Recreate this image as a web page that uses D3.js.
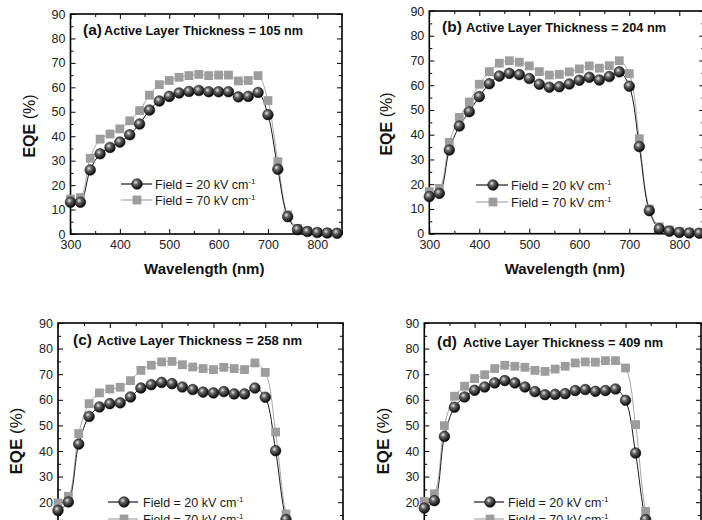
<!DOCTYPE html>
<html>
<head>
<meta charset="utf-8">
<script src="https://cdn.jsdelivr.net/npm/d3@7"></script>
<style>
    body { margin: 0; background: #fff; }
    svg { display: block; font-family: "Liberation Sans", Arial, sans-serif; }
</style>
</head>
<body>
<div id="chart"></div>
<script>
// wavelength (nm) of every measured point
const wavelength = [300, 320, 340, 360, 380, 400, 420, 440, 460, 480, 500, 520, 540, 560,
    580, 600, 620, 640, 660, 680, 700, 720, 740, 760, 780, 800, 820, 840];

// EQE (%), 20 and 70 kV/cm for each thickness
const eqeA20 = [13.0, 13.0, 26.2, 32.8, 35.4, 37.6, 40.6, 45.0, 50.7, 54.4, 56.3, 57.7, 58.3, 58.7,
    58.2, 58.2, 58.2, 56.1, 56.3, 57.9, 48.8, 26.5, 7.1, 1.8, 1.0, 0.6, 0.4, 0.3];
const eqeA70 = [14.3, 14.9, 31.0, 38.8, 40.9, 43.0, 46.3, 50.5, 56.8, 61.1, 62.8, 64.1, 64.8, 65.3,
    64.8, 65.0, 65.0, 62.6, 62.8, 64.8, 54.6, 29.6, 7.9, 2.3, 1.2, 0.7, 0.5, 0.4];
const eqeB20 = [15.0, 16.3, 33.8, 43.5, 49.3, 55.4, 60.6, 63.7, 64.8, 64.3, 62.7, 60.4, 59.2, 59.4,
    60.5, 62.0, 63.2, 62.1, 63.5, 65.4, 59.6, 35.2, 9.3, 2.0, 1.0, 0.5, 0.3, 0.2];
const eqeB70 = [17.0, 18.3, 36.9, 47.0, 53.2, 60.4, 65.5, 68.9, 69.9, 69.3, 67.8, 65.5, 64.1, 64.4,
    65.4, 66.6, 67.8, 66.9, 67.9, 69.9, 64.7, 38.4, 10.0, 2.8, 1.5, 0.8, 0.5, 0.4];
const eqeC20 = [16.8, 20.1, 42.7, 53.5, 57.2, 58.5, 58.8, 61.1, 64.6, 65.9, 66.8, 66.3, 65.0, 64.0,
    63.0, 62.7, 63.2, 62.3, 62.3, 64.6, 61.0, 40.1, 13.2, 3.0, 1.5, 0.8, 0.5, 0.3];
const eqeC70 = [19.7, 22.3, 46.8, 58.5, 62.7, 64.2, 64.9, 67.5, 71.5, 73.5, 74.8, 75.0, 73.7, 72.8,
    72.2, 71.8, 72.7, 72.2, 71.8, 74.4, 70.7, 47.4, 15.4, 3.5, 1.8, 1.0, 0.6, 0.4];
const eqeD20 = [17.7, 20.6, 45.7, 57.1, 61.1, 63.7, 65.0, 66.6, 67.5, 66.6, 65.0, 63.2, 62.0, 62.1,
    62.4, 63.6, 64.0, 63.3, 63.6, 64.2, 59.8, 39.2, 13.2, 3.0, 1.5, 0.8, 0.5, 0.3];
const eqeD70 = [20.3, 23.3, 49.9, 61.4, 65.3, 68.3, 69.8, 72.2, 73.5, 73.1, 72.7, 71.5, 71.1, 72.0,
    73.1, 74.4, 74.8, 74.7, 75.3, 75.3, 72.4, 50.3, 16.4, 3.5, 1.8, 1.0, 0.6, 0.4];

const panelLetters = ["(a)", "(b)", "(c)", "(d)"];
const thickness = [105, 204, 258, 409];
const legendLabels = ["Field = 20 kV cm", "Field = 70 kV cm"];
const xTicks = [300, 400, 500, 600, 700, 800];
const xMinorTicks = [350, 450, 550, 650, 750, 850];
const yTicks = [0, 10, 20, 30, 40, 50, 60, 70, 80, 90];
const yMinorTicks = [5, 15, 25, 35, 45, 55, 65, 75, 85];

const series = [[eqeA20, eqeA70], [eqeB20, eqeB70], [eqeC20, eqeC70], [eqeD20, eqeD70]];

const pageW = 702, pageH = 520;

// where each panel sits on the page
const panels = [
    { left: 70.5, right: 342, top: 14, bottom: 234, titleX: 83, titleY: 35, textX: 104, textW: 199,
      yLabX: 35, yLabY: 126, yLabSize: 16, leg: { x1: 121, x2: 152, m: 137, tx: 155, y: 184, dy: 16 } },
    { left: 429.3, right: 704.3, top: 11, bottom: 233.7, titleX: 442, titleY: 32, textX: 466, textW: 200,
      yLabX: 392, yLabY: 124, yLabSize: 16, leg: { x1: 476, x2: 508, m: 493, tx: 511, y: 185, dy: 17 } },
    { left: 58, right: 343, top: 323, bottom: 553.4, titleX: 73, titleY: 345, textX: 97, textW: 205,
      yLabX: 22, yLabY: 441, yLabSize: 17, leg: { x1: 108, x2: 138, m: 124, tx: 143, y: 502, dy: 17 } },
    { left: 424.3, right: 701, top: 323, bottom: 553.4, titleX: 437, titleY: 347, textX: 463, textW: 200,
      yLabX: 389, yLabY: 441, yLabSize: 17, leg: { x1: 474, x2: 504, m: 490, tx: 508, y: 502, dy: 17 } }
];

const svg = d3.select("#chart").append("svg")
    .attr("width", pageW)
    .attr("height", pageH);

// shaded ball for the 20 kV/cm markers
const grad = svg.append("defs").append("radialGradient")
    .attr("id", "ball")
    .attr("cx", "38%").attr("cy", "35%").attr("r", "65%");
grad.append("stop").attr("offset", "0%").attr("stop-color", "#e8e8e8");
grad.append("stop").attr("offset", "35%").attr("stop-color", "#666");
grad.append("stop").attr("offset", "100%").attr("stop-color", "#050505");

function drawBall(g, cx, cy) {
    g.append("circle")
        .attr("cx", cx).attr("cy", cy).attr("r", 5.3)
        .attr("fill", "url(#ball)")
        .attr("stroke", "#111").attr("stroke-width", 0.6);
}

function drawSquare(g, cx, cy) {
    g.append("rect")
        .attr("x", cx - 4.4).attr("y", cy - 4.4)
        .attr("width", 8.8).attr("height", 8.8)
        .attr("fill", "#9d9d9d");
}

function styleAxis(g, hideText) {
    g.select(".domain").remove();
    g.selectAll(".tick line").attr("stroke", "#000").attr("stroke-width", 1);
    g.selectAll(".tick text")
        .attr("fill", "#222")
        .style("font-size", "12.5px");
    if (hideText) g.selectAll(".tick text").remove();
}

panels.forEach((p, i) => {
    const vis = svg.append("g");

    const x = d3.scaleLinear().domain([300, 850]).range([p.left, p.right]);
    const y = d3.scaleLinear().domain([0, 90]).range([p.bottom, p.top]);
    const bottomShown = p.bottom + 16 < pageH;

    // axes with inward ticks on all four sides
    const bottomMaj = vis.append("g").attr("transform", `translate(0,${p.bottom})`)
        .call(d3.axisBottom(x).tickValues(xTicks).tickSize(-5).tickPadding(5));
    styleAxis(bottomMaj, !bottomShown);
    bottomMaj.selectAll(".tick text").attr("dy", "0.8em");
    styleAxis(vis.append("g").attr("transform", `translate(0,${p.bottom})`)
        .call(d3.axisBottom(x).tickValues(xMinorTicks).tickSize(-3)), true);
    styleAxis(vis.append("g").attr("transform", `translate(0,${p.top})`)
        .call(d3.axisTop(x).tickValues(xTicks).tickSize(-5)), true);
    styleAxis(vis.append("g").attr("transform", `translate(0,${p.top})`)
        .call(d3.axisTop(x).tickValues(xMinorTicks).tickSize(-3)), true);

    // y labels only where they fall inside the page
    const leftMaj = vis.append("g").attr("transform", `translate(${p.left},0)`)
        .call(d3.axisLeft(y).tickValues(yTicks).tickSize(-5).tickPadding(5));
    styleAxis(leftMaj, false);
    leftMaj.selectAll(".tick").filter(d => y(d) + 6 > pageH).select("text").remove();
    styleAxis(vis.append("g").attr("transform", `translate(${p.left},0)`)
        .call(d3.axisLeft(y).tickValues(yMinorTicks).tickSize(-3)), true);
    styleAxis(vis.append("g").attr("transform", `translate(${p.right},0)`)
        .call(d3.axisRight(y).tickValues(yTicks).tickSize(-5)), true);
    styleAxis(vis.append("g").attr("transform", `translate(${p.right},0)`)
        .call(d3.axisRight(y).tickValues(yMinorTicks).tickSize(-3)), true);

    vis.append("rect")
        .attr("x", p.left).attr("y", p.top)
        .attr("width", p.right - p.left).attr("height", p.bottom - p.top)
        .attr("fill", "none").attr("stroke", "#000").attr("stroke-width", 1.6);

    // curves
    const line = d3.line()
        .x((d, j) => x(wavelength[j]))
        .y(d => y(d))
        .curve(d3.curveCatmullRom.alpha(0.5));

    const [low, high] = series[i];

    vis.append("path").datum(high)
        .attr("d", line).attr("fill", "none")
        .attr("stroke", "#a6a6a6").attr("stroke-width", 1);
    vis.append("path").datum(low)
        .attr("d", line).attr("fill", "none")
        .attr("stroke", "#1a1a1a").attr("stroke-width", 1);

    const marks = vis.append("g");
    high.forEach((v, j) => drawSquare(marks, x(wavelength[j]), y(v)));
    low.forEach((v, j) => drawBall(marks, x(wavelength[j]), y(v)));

    // title
    vis.append("text")
        .attr("x", p.titleX).attr("y", p.titleY)
        .attr("fill", "#111")
        .style("font-size", "15.5px")
        .style("font-weight", "bold")
        .text(panelLetters[i]);
    vis.append("text")
        .attr("x", p.textX).attr("y", p.titleY)
        .attr("fill", "#111")
        .attr("textLength", p.textW)
        .attr("lengthAdjust", "spacingAndGlyphs")
        .style("font-size", "13.5px")
        .style("font-weight", "bold")
        .text(`Active Layer Thickness = ${thickness[i]} nm`);

    // axis titles
    const yl = vis.append("text")
        .attr("transform", `translate(${p.yLabX},${p.yLabY}) rotate(-90)`)
        .attr("text-anchor", "middle")
        .attr("fill", "#111")
        .style("font-size", p.yLabSize + "px");
    yl.append("tspan").style("font-weight", "bold").text("EQE");
    yl.append("tspan").text(" (%)");

    if (p.bottom + 40 < pageH) {
        vis.append("text")
            .attr("x", (p.left + p.right) / 2 - 2)
            .attr("y", p.bottom + 40)
            .attr("text-anchor", "middle")
            .attr("fill", "#111")
            .style("font-size", "15px")
            .style("font-weight", "bold")
            .text("Wavelength (nm)");
    }

    // legend
    const lg = vis.append("g");
    legendLabels.forEach((lab, k) => {
        const ly = p.leg.y + k * p.leg.dy;
        lg.append("line")
            .attr("x1", p.leg.x1).attr("x2", p.leg.x2)
            .attr("y1", ly).attr("y2", ly)
            .attr("stroke", k === 0 ? "#1a1a1a" : "#a6a6a6")
            .attr("stroke-width", 1.2);
        if (k === 0) drawBall(lg, p.leg.m, ly);
        else drawSquare(lg, p.leg.m, ly);
        const t = lg.append("text")
            .attr("x", p.leg.tx).attr("y", ly + 4.5)
            .attr("fill", "#1a1a1a")
            .style("font-size", "12.5px")
            .text(lab);
        t.append("tspan")
            .attr("dy", -5)
            .style("font-size", "8px")
            .text("-1");
    });
});
</script>
</body>
</html>
